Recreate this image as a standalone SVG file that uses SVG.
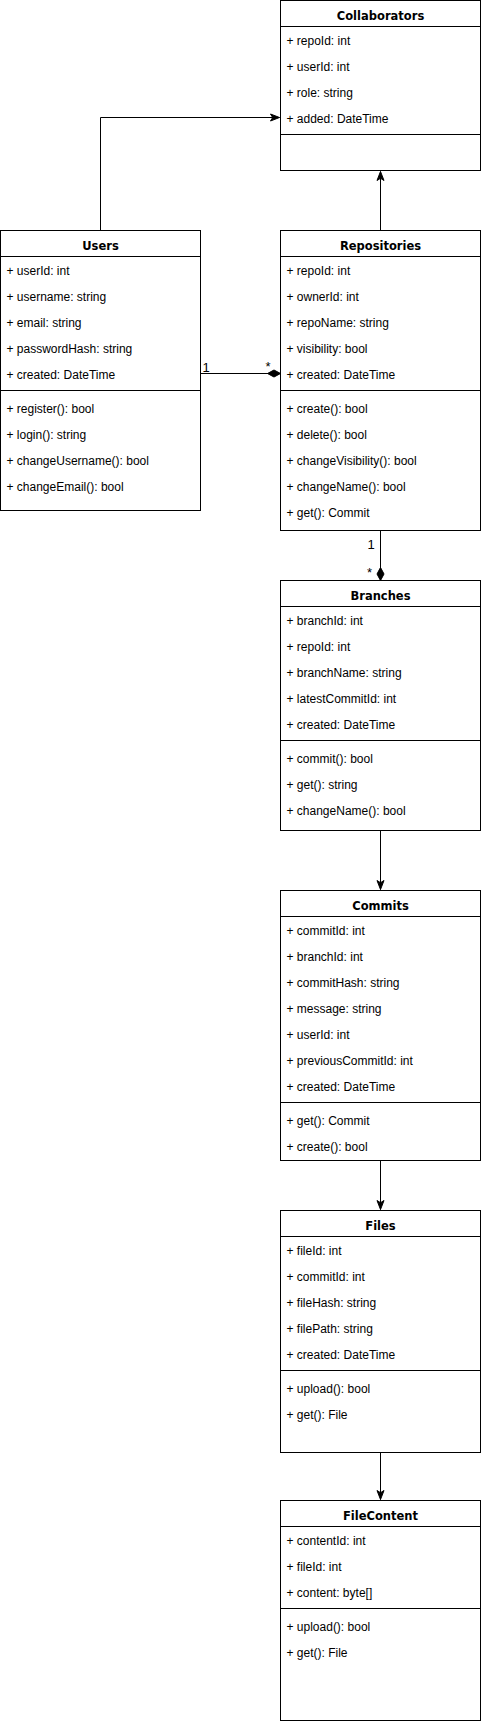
<svg xmlns="http://www.w3.org/2000/svg" width="482" height="1721" viewBox="0 0 482 1721">
<style>
.box{fill:#fff;stroke:#000;stroke-width:1}
.ln{stroke:#000;stroke-width:1;fill:none}
.t{font-family:"Liberation Sans",Arial,sans-serif;font-size:12px;fill:#000}
.h{font-family:"DejaVu Sans",Verdana,sans-serif;font-weight:bold;font-size:11.5px;fill:#000;text-anchor:middle}
.lb{font-family:"Liberation Sans",Arial,sans-serif;font-size:13px;fill:#000}
</style>
<defs>
<marker id="arr" markerUnits="userSpaceOnUse" markerWidth="10" markerHeight="8" refX="9" refY="4" orient="auto" overflow="visible">
<path d="M0,0.5 L9,4 L0,7.5 L2.2,4 Z" fill="#000" stroke="#000" stroke-width="1"/>
</marker>
<marker id="dia" markerUnits="userSpaceOnUse" markerWidth="14" markerHeight="8" refX="13" refY="4" orient="auto" overflow="visible">
<path d="M0,4 L6.5,0.5 L13,4 L6.5,7.5 Z" fill="#000" stroke="#000" stroke-width="1"/>
</marker>
</defs>
<rect width="482" height="1721" fill="#fff"/>
<g transform="translate(0.5 0.5)">
<g id="connectors">
<path class="ln" d="M100,230 V117 H279" marker-end="url(#arr)"/>
<path class="ln" d="M380,230 V171" marker-end="url(#arr)"/>
<path class="ln" d="M200,373 H280" marker-end="url(#dia)"/>
<text class="lb" x="202" y="371">1</text>
<text class="lb" x="265" y="370">*</text>
<path class="ln" d="M380,530 V580" marker-end="url(#dia)"/>
<text class="lb" x="367" y="548">1</text>
<text class="lb" x="366.5" y="576">*</text>
<path class="ln" d="M380,830 V889" marker-end="url(#arr)"/>
<path class="ln" d="M380,1160 V1209" marker-end="url(#arr)"/>
<path class="ln" d="M380,1452 V1499" marker-end="url(#arr)"/>
</g>
<g id="Collaborators">
<rect class="box" x="280" y="0" width="200" height="170"/>
<line class="ln" x1="280" y1="26" x2="480" y2="26"/>
<line class="ln" x1="280" y1="134" x2="480" y2="134"/>
<text class="h" x="380" y="19">Collaborators</text>
<text class="t" x="286" y="44">+ repoId: int</text>
<text class="t" x="286" y="70">+ userId: int</text>
<text class="t" x="286" y="96">+ role: string</text>
<text class="t" x="286" y="122">+ added: DateTime</text>
</g>
<g id="Users">
<rect class="box" x="0" y="230" width="200" height="280"/>
<line class="ln" x1="0" y1="256" x2="200" y2="256"/>
<line class="ln" x1="0" y1="390" x2="200" y2="390"/>
<text class="h" x="100" y="249">Users</text>
<text class="t" x="6" y="274">+ userId: int</text>
<text class="t" x="6" y="300">+ username: string</text>
<text class="t" x="6" y="326">+ email: string</text>
<text class="t" x="6" y="352">+ passwordHash: string</text>
<text class="t" x="6" y="378">+ created: DateTime</text>
<text class="t" x="6" y="412">+ register(): bool</text>
<text class="t" x="6" y="438">+ login(): string</text>
<text class="t" x="6" y="464">+ changeUsername(): bool</text>
<text class="t" x="6" y="490">+ changeEmail(): bool</text>
</g>
<g id="Repositories">
<rect class="box" x="280" y="230" width="200" height="300"/>
<line class="ln" x1="280" y1="256" x2="480" y2="256"/>
<line class="ln" x1="280" y1="390" x2="480" y2="390"/>
<text class="h" x="380" y="249">Repositories</text>
<text class="t" x="286" y="274">+ repoId: int</text>
<text class="t" x="286" y="300">+ ownerId: int</text>
<text class="t" x="286" y="326">+ repoName: string</text>
<text class="t" x="286" y="352">+ visibility: bool</text>
<text class="t" x="286" y="378">+ created: DateTime</text>
<text class="t" x="286" y="412">+ create(): bool</text>
<text class="t" x="286" y="438">+ delete(): bool</text>
<text class="t" x="286" y="464">+ changeVisibility(): bool</text>
<text class="t" x="286" y="490">+ changeName(): bool</text>
<text class="t" x="286" y="516">+ get(): Commit</text>
</g>
<g id="Branches">
<rect class="box" x="280" y="580" width="200" height="250"/>
<line class="ln" x1="280" y1="606" x2="480" y2="606"/>
<line class="ln" x1="280" y1="740" x2="480" y2="740"/>
<text class="h" x="380" y="599">Branches</text>
<text class="t" x="286" y="624">+ branchId: int</text>
<text class="t" x="286" y="650">+ repoId: int</text>
<text class="t" x="286" y="676">+ branchName: string</text>
<text class="t" x="286" y="702">+ latestCommitId: int</text>
<text class="t" x="286" y="728">+ created: DateTime</text>
<text class="t" x="286" y="762">+ commit(): bool</text>
<text class="t" x="286" y="788">+ get(): string</text>
<text class="t" x="286" y="814">+ changeName(): bool</text>
</g>
<g id="Commits">
<rect class="box" x="280" y="890" width="200" height="270"/>
<line class="ln" x1="280" y1="916" x2="480" y2="916"/>
<line class="ln" x1="280" y1="1102" x2="480" y2="1102"/>
<text class="h" x="380" y="909">Commits</text>
<text class="t" x="286" y="934">+ commitId: int</text>
<text class="t" x="286" y="960">+ branchId: int</text>
<text class="t" x="286" y="986">+ commitHash: string</text>
<text class="t" x="286" y="1012">+ message: string</text>
<text class="t" x="286" y="1038">+ userId: int</text>
<text class="t" x="286" y="1064">+ previousCommitId: int</text>
<text class="t" x="286" y="1090">+ created: DateTime</text>
<text class="t" x="286" y="1124">+ get(): Commit</text>
<text class="t" x="286" y="1150">+ create(): bool</text>
</g>
<g id="Files">
<rect class="box" x="280" y="1210" width="200" height="242"/>
<line class="ln" x1="280" y1="1236" x2="480" y2="1236"/>
<line class="ln" x1="280" y1="1370" x2="480" y2="1370"/>
<text class="h" x="380" y="1229">Files</text>
<text class="t" x="286" y="1254">+ fileId: int</text>
<text class="t" x="286" y="1280">+ commitId: int</text>
<text class="t" x="286" y="1306">+ fileHash: string</text>
<text class="t" x="286" y="1332">+ filePath: string</text>
<text class="t" x="286" y="1358">+ created: DateTime</text>
<text class="t" x="286" y="1392">+ upload(): bool</text>
<text class="t" x="286" y="1418">+ get(): File</text>
</g>
<g id="FileContent">
<rect class="box" x="280" y="1500" width="200" height="220"/>
<line class="ln" x1="280" y1="1526" x2="480" y2="1526"/>
<line class="ln" x1="280" y1="1608" x2="480" y2="1608"/>
<text class="h" x="380" y="1519">FileContent</text>
<text class="t" x="286" y="1544">+ contentId: int</text>
<text class="t" x="286" y="1570">+ fileId: int</text>
<text class="t" x="286" y="1596">+ content: byte[]</text>
<text class="t" x="286" y="1630">+ upload(): bool</text>
<text class="t" x="286" y="1656">+ get(): File</text>
</g>
</g>
</svg>
